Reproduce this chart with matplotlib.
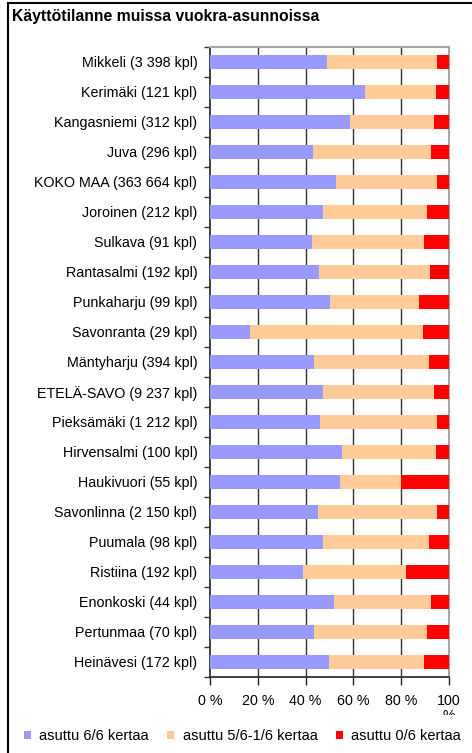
import matplotlib
matplotlib.use("Agg")
import matplotlib.pyplot as plt
from matplotlib.patches import Patch, Rectangle
from matplotlib.lines import Line2D
import numpy as np

plt.rcParams['font.family'] = ['Liberation Sans', 'DejaVu Sans']

title = "Käyttötilanne muissa vuokra-asunnoissa"
categories = [
    "Mikkeli (3 398 kpl)", "Kerimäki (121 kpl)", "Kangasniemi (312 kpl)",
    "Juva (296 kpl)", "KOKO MAA (363 664 kpl)", "Joroinen (212 kpl)",
    "Sulkava (91 kpl)", "Rantasalmi (192 kpl)", "Punkaharju (99 kpl)",
    "Savonranta (29 kpl)", "Mäntyharju (394 kpl)", "ETELÄ-SAVO (9 237 kpl)",
    "Pieksämäki (1 212 kpl)", "Hirvensalmi (100 kpl)", "Haukivuori (55 kpl)",
    "Savonlinna (2 150 kpl)", "Puumala (98 kpl)", "Ristiina (192 kpl)",
    "Enonkoski (44 kpl)", "Pertunmaa (70 kpl)", "Heinävesi (172 kpl)",
]
# share of dwellings occupied 6/6 times (%)
full = [49.0, 64.7, 58.4, 43.3, 52.9, 47.2, 42.6, 45.5, 50.1, 16.9, 43.7,
        47.2, 46.1, 55.4, 54.2, 45.0, 47.2, 39.1, 51.8, 43.7, 49.6]
# share occupied 5/6-1/6 times (%)
partial = [46.0, 29.7, 35.3, 49.3, 42.1, 43.7, 46.8, 46.6, 37.5, 72.2, 48.0,
           46.7, 48.9, 39.0, 25.7, 50.0, 44.5, 43.0, 40.8, 47.2, 40.1]
# share never occupied (%)
empty = [5.0, 5.6, 6.3, 7.4, 5.0, 9.1, 10.6, 7.9, 12.4, 10.9, 8.3,
         6.1, 5.0, 5.6, 20.1, 5.0, 8.3, 17.9, 7.4, 9.1, 10.3]
series_names = ["asuttu 6/6 kertaa", "asuttu 5/6-1/6 kertaa", "asuttu 0/6 kertaa"]
series_colors = ["#9999FF", "#FFCC99", "#FF0000"]
x_ticks = [0, 20, 40, 60, 80, 100]
x_labels = ["0 %", "20 %", "40 %", "60 %", "80 %", "100\n%"]

W, H = 472, 753
fig = plt.figure(figsize=(W / 100, H / 100), dpi=100)
fig.patch.set_facecolor("white")

ax = fig.add_axes([210 / W, 1 - 677 / H, 239 / W, 630 / H])
y = np.arange(len(categories))
left = np.zeros(len(categories))
for vals, color in zip([full, partial, empty], series_colors):
    vals = np.asarray(vals)
    ax.barh(y, vals, left=left, height=0.48, color=color, edgecolor="none", zorder=3)
    left = left + vals

ax.set_xlim(0, 100)
ax.set_ylim(len(categories) - 0.5, -0.5)

for gx in x_ticks[1:-1]:
    ax.axvline(gx, color="#333333", lw=1.0, zorder=1)

ax.set_yticks(y)
ax.set_yticklabels(categories, fontsize=10.3)
ax.set_yticks(np.arange(len(categories) + 1) - 0.5, minor=True)
ax.tick_params(axis="y", which="major", length=0, pad=9)
ax.tick_params(axis="y", which="minor", length=4, width=1.0, color="#333333", direction="out")

ax.set_xticks(x_ticks)
ax.set_xticklabels(x_labels, fontsize=10.3, va="top", linespacing=1.1)
ax.tick_params(axis="x", length=6, width=1.0, color="#222222", direction="out", pad=6)

for s in ["top", "right"]:
    ax.spines[s].set_color("#A6A6A6")
    ax.spines[s].set_linewidth(1.5)
for s in ["left", "bottom"]:
    ax.spines[s].set_color("#333333")
    ax.spines[s].set_linewidth(1.3)

# title
fig.text(12 / W, 1 - 16 / H, title, fontsize=11.3, fontweight="bold",
         ha="left", va="center")

# white strip that trims the wrapped tick label under the legend row
fig.patches.append(Rectangle((9 / W, 0), 1, 1 - 715 / H, transform=fig.transFigure,
                             facecolor="white", edgecolor="none", zorder=2))

# outer frame (runs past the right and bottom edges)
fig.add_artist(Line2D([8 / W, 8 / W], [0, 1 - 3 / H], transform=fig.transFigure,
                      color="black", lw=1.5, zorder=6))
fig.add_artist(Line2D([8 / W, 1], [1 - 3 / H, 1 - 3 / H], transform=fig.transFigure,
                      color="black", lw=1.5, zorder=6))

handles = [Patch(facecolor=c, edgecolor="none") for c in series_colors]
leg = fig.legend(handles, series_names, loc="center", ncol=3,
                 bbox_to_anchor=(242.5 / W, 1 - 736 / H), frameon=False,
                 fontsize=10.5, handlelength=0.48, handleheight=0.48,
                 handletextpad=0.55, columnspacing=1.3, borderpad=0)
leg.set_zorder(7)

fig.savefig("out.png", dpi=100)
